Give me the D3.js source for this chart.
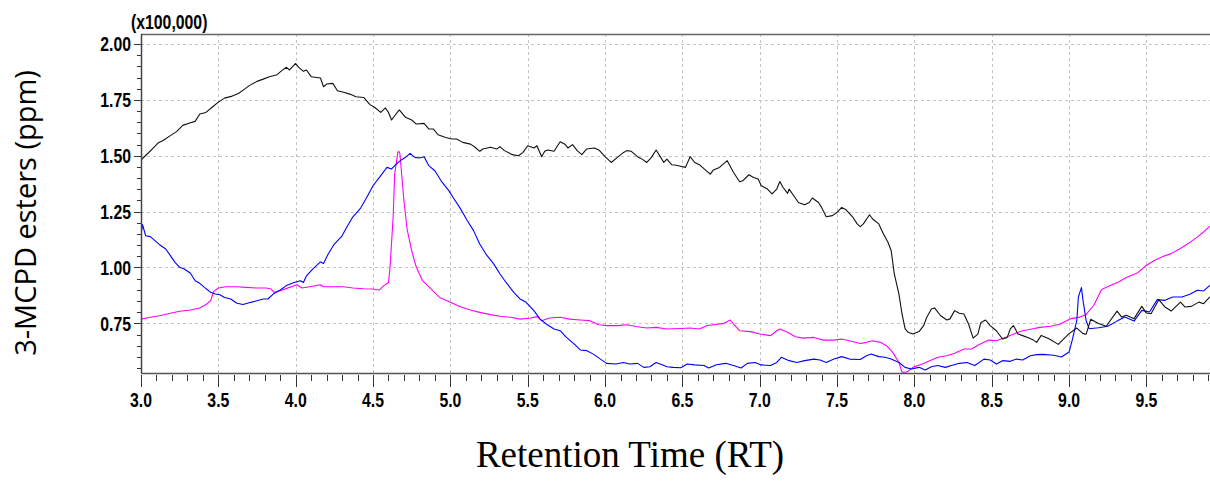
<!DOCTYPE html>
<html><head><meta charset="utf-8">
<script src="https://cdn.jsdelivr.net/npm/d3@7"></script>
<style>
html,body{margin:0;padding:0;background:#fff;overflow:hidden}
svg{display:block}
</style></head><body>
<svg id="chart" width="1210" height="496"></svg>
<script>
// Axis labelling
const xTickLabels = ["3.0","3.5","4.0","4.5","5.0","5.5","6.0","6.5","7.0","7.5","8.0","8.5","9.0","9.5"];
const yTickLabels = ["0.75","1.00","1.25","1.50","1.75","2.00"];
const scaleNote = "(x100,000)";
const xTitle = "Retention Time (RT)";
const yTitle = "3-MCPD esters (ppm)";

// Chromatogram traces: [retention time (min), intensity (x100,000)]
const blackTrace = [[3.00,1.481],[3.04,1.508],[3.08,1.535],[3.11,1.557],[3.14,1.567],[3.19,1.590],[3.23,1.608],[3.27,1.636],[3.32,1.648],[3.35,1.654],[3.38,1.687],[3.42,1.694],[3.46,1.717],[3.50,1.740],[3.54,1.758],[3.59,1.767],[3.63,1.779],[3.66,1.794],[3.70,1.814],[3.75,1.833],[3.79,1.843],[3.83,1.854],[3.88,1.863],[3.91,1.881],[3.94,1.896],[3.96,1.884],[4.00,1.913],[4.02,1.896],[4.05,1.878],[4.07,1.884],[4.10,1.854],[4.16,1.848],[4.18,1.809],[4.20,1.821],[4.24,1.824],[4.27,1.791],[4.31,1.784],[4.35,1.776],[4.39,1.764],[4.44,1.761],[4.48,1.729],[4.51,1.717],[4.55,1.694],[4.58,1.714],[4.60,1.694],[4.62,1.660],[4.64,1.679],[4.67,1.705],[4.71,1.672],[4.75,1.660],[4.78,1.642],[4.83,1.645],[4.86,1.620],[4.89,1.620],[4.92,1.594],[4.97,1.582],[5.01,1.575],[5.04,1.575],[5.08,1.560],[5.13,1.552],[5.16,1.538],[5.19,1.520],[5.21,1.530],[5.26,1.538],[5.30,1.530],[5.32,1.541],[5.35,1.523],[5.40,1.505],[5.44,1.500],[5.47,1.515],[5.50,1.545],[5.54,1.535],[5.56,1.545],[5.59,1.496],[5.61,1.520],[5.63,1.526],[5.67,1.520],[5.71,1.563],[5.74,1.552],[5.76,1.535],[5.79,1.550],[5.82,1.523],[5.85,1.505],[5.88,1.530],[5.93,1.535],[5.96,1.526],[6.00,1.496],[6.04,1.470],[6.08,1.493],[6.12,1.515],[6.14,1.523],[6.17,1.520],[6.21,1.496],[6.24,1.485],[6.27,1.470],[6.30,1.493],[6.33,1.526],[6.36,1.493],[6.38,1.470],[6.40,1.485],[6.43,1.460],[6.45,1.459],[6.49,1.453],[6.52,1.448],[6.55,1.496],[6.58,1.470],[6.61,1.460],[6.65,1.436],[6.68,1.418],[6.70,1.436],[6.74,1.448],[6.79,1.478],[6.83,1.426],[6.87,1.384],[6.89,1.388],[6.93,1.415],[6.96,1.403],[6.99,1.396],[7.01,1.366],[7.05,1.351],[7.08,1.329],[7.11,1.351],[7.13,1.385],[7.15,1.359],[7.18,1.332],[7.19,1.351],[7.22,1.321],[7.25,1.291],[7.29,1.281],[7.32,1.291],[7.34,1.311],[7.38,1.291],[7.40,1.269],[7.43,1.227],[7.47,1.232],[7.50,1.247],[7.53,1.269],[7.56,1.257],[7.60,1.227],[7.63,1.195],[7.65,1.183],[7.67,1.195],[7.71,1.236],[7.73,1.217],[7.77,1.195],[7.80,1.150],[7.83,1.112],[7.85,1.075],[7.87,0.971],[7.90,0.881],[7.92,0.792],[7.94,0.725],[7.96,0.710],[7.99,0.702],[8.03,0.713],[8.06,0.740],[8.08,0.777],[8.11,0.814],[8.13,0.819],[8.17,0.784],[8.21,0.765],[8.23,0.770],[8.26,0.807],[8.29,0.795],[8.32,0.792],[8.35,0.747],[8.38,0.684],[8.41,0.702],[8.43,0.754],[8.46,0.765],[8.49,0.740],[8.53,0.717],[8.57,0.680],[8.60,0.687],[8.62,0.725],[8.64,0.740],[8.67,0.702],[8.70,0.695],[8.74,0.684],[8.77,0.675],[8.79,0.665],[8.82,0.696],[8.87,0.681],[8.93,0.656],[9.00,0.704],[9.05,0.729],[9.09,0.704],[9.11,0.701],[9.14,0.768],[9.19,0.749],[9.24,0.737],[9.31,0.805],[9.34,0.778],[9.37,0.786],[9.42,0.771],[9.47,0.826],[9.50,0.796],[9.53,0.793],[9.58,0.856],[9.62,0.823],[9.66,0.805],[9.72,0.845],[9.75,0.823],[9.79,0.826],[9.84,0.845],[9.87,0.838],[9.91,0.868]];

const blueTrace = [[3.00,1.150],[3.01,1.192],[3.03,1.142],[3.06,1.138],[3.09,1.120],[3.12,1.102],[3.16,1.083],[3.19,1.053],[3.22,1.023],[3.25,1.001],[3.28,0.993],[3.32,0.974],[3.35,0.941],[3.38,0.929],[3.41,0.911],[3.45,0.889],[3.48,0.881],[3.51,0.878],[3.54,0.866],[3.58,0.859],[3.62,0.840],[3.66,0.834],[3.71,0.844],[3.75,0.851],[3.79,0.859],[3.82,0.859],[3.86,0.884],[3.90,0.899],[3.94,0.919],[3.99,0.933],[4.03,0.941],[4.05,0.933],[4.07,0.963],[4.11,0.993],[4.16,1.025],[4.18,1.018],[4.21,1.060],[4.25,1.105],[4.30,1.142],[4.33,1.180],[4.37,1.227],[4.42,1.266],[4.46,1.314],[4.50,1.366],[4.55,1.411],[4.59,1.448],[4.62,1.441],[4.64,1.456],[4.67,1.475],[4.71,1.493],[4.74,1.511],[4.77,1.493],[4.80,1.490],[4.83,1.496],[4.86,1.456],[4.90,1.433],[4.94,1.388],[4.99,1.344],[5.02,1.311],[5.06,1.269],[5.11,1.209],[5.15,1.165],[5.19,1.105],[5.23,1.060],[5.28,1.016],[5.32,0.972],[5.36,0.933],[5.41,0.889],[5.45,0.859],[5.49,0.844],[5.54,0.807],[5.58,0.769],[5.62,0.747],[5.67,0.725],[5.71,0.717],[5.75,0.687],[5.80,0.658],[5.84,0.631],[5.88,0.628],[5.93,0.610],[5.97,0.590],[6.01,0.571],[6.07,0.568],[6.12,0.575],[6.16,0.568],[6.21,0.571],[6.25,0.553],[6.29,0.556],[6.33,0.575],[6.37,0.565],[6.40,0.556],[6.44,0.553],[6.49,0.551],[6.53,0.568],[6.58,0.564],[6.64,0.561],[6.67,0.550],[6.72,0.565],[6.78,0.571],[6.83,0.561],[6.88,0.550],[6.92,0.571],[6.97,0.575],[7.01,0.564],[7.07,0.561],[7.11,0.575],[7.14,0.598],[7.19,0.583],[7.24,0.575],[7.29,0.583],[7.35,0.590],[7.39,0.586],[7.43,0.575],[7.48,0.590],[7.53,0.601],[7.58,0.590],[7.65,0.588],[7.69,0.605],[7.72,0.613],[7.77,0.601],[7.81,0.598],[7.85,0.590],[7.90,0.575],[7.94,0.553],[7.98,0.546],[8.03,0.553],[8.07,0.541],[8.11,0.556],[8.15,0.561],[8.20,0.553],[8.24,0.561],[8.29,0.571],[8.34,0.575],[8.39,0.561],[8.45,0.590],[8.49,0.586],[8.53,0.568],[8.57,0.583],[8.62,0.580],[8.66,0.590],[8.70,0.586],[8.75,0.605],[8.79,0.610],[8.83,0.611],[8.90,0.607],[8.95,0.599],[9.00,0.622],[9.02,0.674],[9.05,0.763],[9.06,0.868],[9.08,0.910],[9.09,0.853],[9.11,0.763],[9.13,0.726],[9.19,0.730],[9.25,0.737],[9.31,0.760],[9.36,0.778],[9.42,0.760],[9.47,0.808],[9.52,0.801],[9.57,0.856],[9.62,0.853],[9.67,0.868],[9.73,0.868],[9.78,0.880],[9.83,0.898],[9.87,0.895],[9.91,0.920]];

const magentaTrace = [[3.00,0.769],[3.06,0.777],[3.12,0.784],[3.19,0.795],[3.25,0.804],[3.32,0.810],[3.38,0.819],[3.42,0.834],[3.45,0.851],[3.47,0.893],[3.50,0.908],[3.55,0.914],[3.62,0.914],[3.68,0.911],[3.75,0.908],[3.81,0.908],[3.84,0.904],[3.86,0.889],[3.90,0.896],[3.96,0.911],[4.01,0.923],[4.04,0.908],[4.09,0.914],[4.16,0.923],[4.18,0.914],[4.24,0.914],[4.31,0.914],[4.37,0.908],[4.44,0.905],[4.50,0.904],[4.54,0.899],[4.57,0.919],[4.60,0.933],[4.61,1.001],[4.63,1.224],[4.64,1.418],[4.66,1.515],[4.667,1.520],[4.674,1.508],[4.685,1.418],[4.70,1.299],[4.72,1.172],[4.75,1.075],[4.78,1.001],[4.82,0.941],[4.87,0.908],[4.93,0.866],[5.00,0.844],[5.06,0.825],[5.13,0.810],[5.19,0.799],[5.26,0.789],[5.32,0.782],[5.39,0.777],[5.45,0.769],[5.52,0.774],[5.56,0.780],[5.59,0.762],[5.64,0.774],[5.71,0.777],[5.77,0.769],[5.84,0.765],[5.90,0.762],[5.96,0.744],[6.01,0.740],[6.08,0.740],[6.14,0.744],[6.21,0.735],[6.27,0.729],[6.33,0.732],[6.40,0.725],[6.49,0.727],[6.55,0.729],[6.61,0.725],[6.66,0.740],[6.70,0.744],[6.77,0.750],[6.81,0.765],[6.83,0.747],[6.87,0.717],[6.94,0.713],[7.00,0.702],[7.07,0.695],[7.11,0.717],[7.13,0.725],[7.18,0.710],[7.23,0.690],[7.28,0.684],[7.35,0.687],[7.41,0.675],[7.48,0.675],[7.53,0.680],[7.58,0.672],[7.65,0.660],[7.69,0.665],[7.73,0.672],[7.78,0.665],[7.82,0.650],[7.86,0.620],[7.90,0.575],[7.92,0.531],[7.95,0.531],[7.99,0.553],[8.05,0.568],[8.10,0.583],[8.15,0.598],[8.21,0.605],[8.26,0.616],[8.32,0.635],[8.37,0.635],[8.42,0.655],[8.48,0.675],[8.53,0.672],[8.60,0.690],[8.65,0.705],[8.70,0.717],[8.76,0.725],[8.81,0.732],[8.88,0.737],[8.94,0.746],[9.01,0.771],[9.07,0.778],[9.11,0.790],[9.16,0.831],[9.21,0.901],[9.27,0.920],[9.32,0.935],[9.37,0.955],[9.44,0.975],[9.50,1.010],[9.56,1.035],[9.61,1.050],[9.66,1.062],[9.72,1.085],[9.77,1.107],[9.83,1.137],[9.87,1.159],[9.91,1.185]];

const svg = d3.select("#chart");
const W = 1210;
const plotLeft = 141, plotTop = 34, plotBottom = 373;

const x = d3.scaleLinear().domain([3, 10]).range([plotLeft, plotLeft + 7 * 154.68]);
const y = d3.scaleLinear().domain([0.53, 2.045]).range([372.5, plotTop]);

// Condensed bold face for the numeric labels (horizontally squeezed)
const tickFont = "'Liberation Sans',Arial,sans-serif";
const tickSize = 20;
const squeeze = 0.79;

// Dashed grid
const xMajor = xTickLabels.map(Number);
const yMajor = yTickLabels.map(Number);
const grid = svg.append("g").attr("stroke", "#c4c4c4").attr("stroke-dasharray", "3,3").attr("stroke-width", 1);
grid.selectAll("line.v").data(xMajor.slice(1)).join("line")
  .attr("x1", d => Math.round(x(d)) + 0.5).attr("x2", d => Math.round(x(d)) + 0.5)
  .attr("y1", plotTop).attr("y2", plotBottom);
grid.selectAll("line.h").data(yMajor).join("line")
  .attr("y1", d => Math.round(y(d)) + 0.5).attr("y2", d => Math.round(y(d)) + 0.5)
  .attr("x1", plotLeft).attr("x2", W);

// Traces
svg.append("clipPath").attr("id", "plotClip").append("rect")
  .attr("x", plotLeft).attr("y", plotTop).attr("width", W - plotLeft).attr("height", plotBottom - plotTop);
const line = d3.line().x(d => x(d[0])).y(d => y(d[1]));
const traces = svg.append("g").attr("clip-path", "url(#plotClip)").attr("fill", "none").attr("stroke-width", 1.1).attr("stroke-linejoin", "round");
traces.append("path").attr("d", line(magentaTrace)).attr("stroke", "#ff00ff");
traces.append("path").attr("d", line(blueTrace)).attr("stroke", "#0000ff");
traces.append("path").attr("d", line(blackTrace)).attr("stroke", "#111");

// Frame
svg.append("line").attr("x1", plotLeft).attr("x2", W).attr("y1", plotTop + 0.5).attr("y2", plotTop + 0.5).attr("stroke", "#666").attr("stroke-width", 1.5);
svg.append("line").attr("x1", plotLeft + 0.5).attr("x2", plotLeft + 0.5).attr("y1", plotTop).attr("y2", plotBottom).attr("stroke", "#444").attr("stroke-width", 1.5);
svg.append("line").attr("x1", plotLeft).attr("x2", W).attr("y1", plotBottom + 0.5).attr("y2", plotBottom + 0.5).attr("stroke", "#555").attr("stroke-width", 1.5);

// Y axis ticks and labels
const yMinor = d3.range(11, 41).map(i => i * 0.05);
svg.append("g").selectAll("line").data(yMinor).join("line")
  .attr("x1", d => yMajor.some(m => Math.abs(m - d) < 1e-6) ? plotLeft - 7 : plotLeft - 4)
  .attr("x2", plotLeft)
  .attr("y1", d => Math.round(y(d)) + 0.5).attr("y2", d => Math.round(y(d)) + 0.5)
  .attr("stroke", "#333");
svg.append("g").selectAll("text").data(yTickLabels).join("text")
  .attr("transform", d => `translate(131,${y(+d)}) scale(${squeeze},1)`)
  .attr("dy", "0.36em")
  .attr("text-anchor", "end")
  .attr("font-family", tickFont).attr("font-weight", "bold").attr("font-size", tickSize)
  .attr("fill", "#000").text(d => d);

// X axis ticks and labels
const xMinor = d3.range(30, 100).map(i => i / 10);
svg.append("g").selectAll("line").data(xMinor).join("line")
  .attr("x1", d => Math.round(x(d)) + 0.5).attr("x2", d => Math.round(x(d)) + 0.5)
  .attr("y1", plotBottom + 2)
  .attr("y2", d => xMajor.some(m => Math.abs(m - d) < 1e-6) ? plotBottom + 14 : plotBottom + 8)
  .attr("stroke", "#333");
svg.append("g").selectAll("text").data(xTickLabels).join("text")
  .attr("transform", d => `translate(${x(+d)},407) scale(${squeeze},1)`)
  .attr("text-anchor", "middle")
  .attr("font-family", tickFont).attr("font-weight", "bold").attr("font-size", tickSize)
  .attr("fill", "#000").text(d => d);

// Multiplier note
svg.append("text").attr("transform", `translate(131,29) scale(${squeeze},1)`)
  .attr("font-family", tickFont).attr("font-weight", "bold").attr("font-size", tickSize)
  .attr("fill", "#000").text(scaleNote);

// Axis titles
svg.append("text").attr("x", 630).attr("y", 467).attr("text-anchor", "middle")
  .attr("font-family", "'Liberation Serif','Times New Roman',serif").attr("font-size", 37)
  .attr("fill", "#000").text(xTitle);
svg.append("text").attr("transform", "translate(36,213) rotate(-90)").attr("text-anchor", "middle")
  .attr("font-family", "'Open Sans','Noto Sans',sans-serif").attr("font-size", 29)
  .attr("fill", "#000").text(yTitle);
</script>
</body></html>
